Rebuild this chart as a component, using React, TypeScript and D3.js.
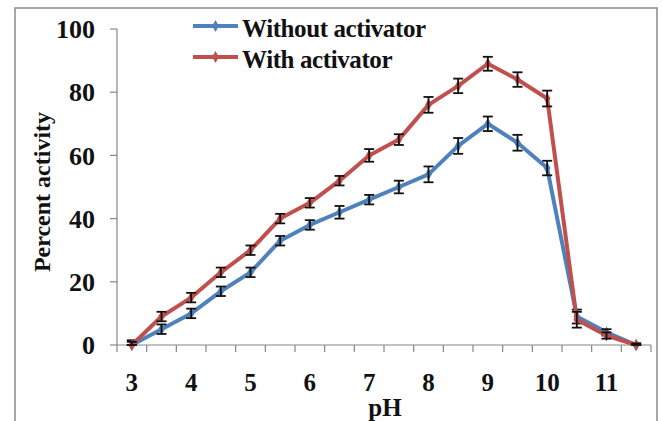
import React from "react";
import * as d3 from "d3";

const phValues = [3, 3.5, 4, 4.5, 5, 5.5, 6, 6.5, 7, 7.5, 8, 8.5, 9, 9.5, 10, 10.5, 11, 11.5];
const withoutActivator = [0, 5, 10, 17, 23, 33, 38, 42, 46, 50, 54, 63, 70, 64, 56, 9, 4, 0];
const withoutActivatorErr = [1.5, 1.5, 1.5, 1.5, 1.5, 1.5, 1.5, 2, 1.5, 2, 2.5, 2.5, 2.3, 2.5, 2.3, 2.2, 1, 0.5];
const withActivator = [0, 9, 15, 23, 30, 40, 45, 52, 60, 65, 76, 82, 89, 84, 78, 8, 3, 0];
const withActivatorErr = [1, 1.5, 1.5, 1.5, 1.5, 1.5, 1.5, 1.5, 2, 1.7, 2.5, 2.3, 2.2, 2.3, 2.5, 2.5, 1, 0.5];
const yTicks = [0, 20, 40, 60, 80, 100];
const xLabels = [3, 4, 5, 6, 7, 8, 9, 10, 11];

const W = 662;
const H = 421;
const left = 117;
const right = 651;
const top = 29;
const bottom = 345;
const FONT = "Liberation Serif, Times New Roman, DejaVu Serif, serif";

const series = [
  { name: "Without activator", values: withoutActivator, err: withoutActivatorErr, color: "#4F81BD" },
  { name: "With activator", values: withActivator, err: withActivatorErr, color: "#C0504D" },
];

export default function App() {
  const x = d3.scaleBand<number>().domain(phValues).range([left, right]).padding(0);
  const y = d3.scaleLinear().domain([0, 100]).range([bottom, top]);
  const cx = (p: number) => (x(p) as number) + x.bandwidth() / 2;
  const line = d3
    .line<number>()
    .x((_, i) => cx(phValues[i]))
    .y((v) => y(v));
  const diamond = d3.symbol().type(d3.symbolDiamond).size(40)();
  const axisColor = "#868686";
  const bandEdges = phValues.map((p) => x(p) as number).concat([right]);
  const textStyle = { fontFamily: FONT, fontWeight: 700 as const };

  return (
    <svg width={W} height={H} style={{ position: "absolute", left: 0, top: 0, background: "#fff" }}>
      <rect x={15} y={8} width={642} height={430} fill="#fff" stroke="#8a8a8a" strokeWidth={1.5} />

      {/* y axis */}
      <line x1={left} x2={left} y1={top} y2={bottom} stroke={axisColor} strokeWidth={1.2} />
      {yTicks.map((t) => (
        <g key={t}>
          <line x1={left - 7} x2={left} y1={y(t)} y2={y(t)} stroke={axisColor} strokeWidth={1.2} />
          <text x={95} y={y(t)} dy="0.35em" textAnchor="end" style={textStyle} fontSize={26} fill="#111">
            {t}
          </text>
        </g>
      ))}

      {/* x axis */}
      <line x1={left} x2={right} y1={bottom} y2={bottom} stroke={axisColor} strokeWidth={1.2} />
      {bandEdges.map((e, i) => (
        <line key={i} x1={e} x2={e} y1={bottom} y2={bottom + 7} stroke={axisColor} strokeWidth={1.2} />
      ))}
      {xLabels.map((p) => (
        <text key={p} x={cx(p)} y={391} textAnchor="middle" style={textStyle} fontSize={25} fill="#111">
          {p}
        </text>
      ))}

      <text x={385} y={416} textAnchor="middle" style={textStyle} fontSize={25} fill="#111">
        pH
      </text>
      <text
        transform={`translate(50, ${(top + bottom) / 2 + 5}) rotate(-90)`}
        textAnchor="middle"
        style={textStyle}
        fontSize={24}
        fill="#111"
      >
        Percent activity
      </text>

      {/* series */}
      {series.map((s) => (
        <g key={s.name}>
          <path d={line(s.values) || ""} fill="none" stroke={s.color} strokeWidth={4} strokeLinejoin="round" />
          {s.values.map((v, i) => (
            <path key={i} d={diamond || ""} transform={`translate(${cx(phValues[i])},${y(v)})`} fill={s.color} />
          ))}
          {s.values.map((v, i) => {
            const px = cx(phValues[i]);
            const hi = y(v + s.err[i]);
            const lo = y(Math.max(0, v - s.err[i]));
            return (
              <g key={"e" + i} stroke="#111" strokeWidth={1.8}>
                <line x1={px} x2={px} y1={hi} y2={lo} />
                <line x1={px - 5} x2={px + 5} y1={hi} y2={hi} />
                <line x1={px - 5} x2={px + 5} y1={lo} y2={lo} />
              </g>
            );
          })}
        </g>
      ))}

      {/* legend */}
      {series.map((s, i) => {
        const ly = 26 + i * 31;
        return (
          <g key={"l" + s.name}>
            <line x1={193} x2={238} y1={ly} y2={ly} stroke={s.color} strokeWidth={4} />
            <path d={diamond || ""} transform={`translate(215.5,${ly})`} fill={s.color} />
            <text x={242} y={ly + 11} style={textStyle} fontSize={25} letterSpacing={-0.4} fill="#111">
              {s.name}
            </text>
          </g>
        );
      })}
    </svg>
  );
}
